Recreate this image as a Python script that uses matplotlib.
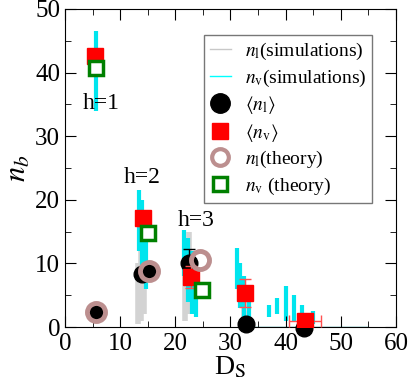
import matplotlib
matplotlib.use("Agg")
import matplotlib.pyplot as plt
from matplotlib.ticker import MultipleLocator
from matplotlib.lines import Line2D

plt.rcParams['font.family'] = ['Liberation Serif', 'DejaVu Serif']
plt.rcParams['mathtext.fontset'] = 'stix'

n1_sim_x = [13.3, 13.8, 14.3, 21.8, 22.4, 23.0, 32.5, 33.0]
n1_sim_lo = [0.5, 1.0, 2.0, 1.0, 2.0, 3.0, 0.0, 0.0]
n1_sim_hi = [10.0, 16.0, 12.0, 12.0, 15.0, 11.0, 4.0, 2.5]

nv_sim_x = [5.6, 13.5, 14.0, 14.6, 21.5, 22.3, 23.0, 23.8,
            31.2, 31.8, 32.5, 33.3, 37.0, 38.5, 40.0, 41.5, 43.0, 45.0]
nv_sim_lo = [34.0, 12.0, 8.0, 6.0, 8.0, 4.0, 2.0, 1.6,
             6.0, 3.0, 1.5, 1.0, 1.5, 2.0, 1.0, 1.0, 0.5, 0.5]
nv_sim_hi = [46.5, 21.5, 20.0, 17.0, 15.2, 14.0, 12.0, 8.0,
             12.4, 10.0, 8.0, 5.0, 3.5, 4.5, 6.5, 5.0, 3.5, 2.5]
tail_x = [33.0, 55.0]
tail_y = [0.0, 0.0]

# mean values
n1_mean_x = [5.6, 14.0, 15.2, 22.5, 32.8, 43.3]
n1_mean_y = [2.4, 8.3, 8.8, 10.0, 0.4, -0.2]
n1_mean_err = [0.0, 0.0, 0.0, 2.2, 0.0, 0.0]

nv_mean_x = [5.5, 14.2, 22.9, 32.6, 43.5]
nv_mean_y = [42.6, 17.1, 7.9, 5.4, 1.0]
nv_mean_yerr = [0.0, 1.2, 1.7, 2.2, 0.0]
nv_mean_xerr = [0.0, 0.0, 0.0, 0.0, 2.9]

# theory
n1_th_x = [5.6, 15.2, 24.5]
n1_th_y = [2.4, 8.8, 10.6]
nv_th_x = [5.6, 15.1, 24.8]
nv_th_y = [40.7, 14.7, 5.8]

h_labels = ['h=1', 'h=2', 'h=3']
h_label_x = [6.6, 14.0, 23.8]
h_label_y = [34.2, 22.6, 15.8]

fig = plt.figure(figsize=(4.09, 3.87), dpi=100)
ax = fig.add_axes([0.159, 0.155, 0.809, 0.822])

ax.vlines(n1_sim_x, n1_sim_lo, n1_sim_hi, color='#d3d3d3', lw=4, zorder=1)
ax.vlines(nv_sim_x, nv_sim_lo, nv_sim_hi, color='#00e5ee', lw=3, zorder=1)
ax.plot(tail_x, tail_y, color='#008b8b', lw=1, zorder=1)

ax.errorbar(n1_mean_x, n1_mean_y, yerr=n1_mean_err, fmt='o', color='black',
            ms=12, ecolor='black', elinewidth=1, capsize=4, zorder=3,
            clip_on=False)
ax.errorbar(nv_mean_x, nv_mean_y, yerr=nv_mean_yerr, xerr=nv_mean_xerr,
            fmt='s', color='red', ms=12, ecolor='#ff5050', elinewidth=1,
            capsize=4, zorder=4)
ax.plot(n1_th_x, n1_th_y, 'o', ms=13, mfc='none', mec='#bc8f8f', mew=3.5,
        zorder=5)
ax.plot(nv_th_x, nv_th_y, 's', ms=10.5, mfc='white', mec='green', mew=2.5,
        zorder=5)

for t, x, y in zip(h_labels, h_label_x, h_label_y):
    ax.text(x, y, t, fontsize=17, ha='center', va='baseline', zorder=6)

ax.set_xlim(0, 60)
ax.set_ylim(0, 50)
ax.xaxis.set_major_locator(MultipleLocator(10))
ax.xaxis.set_minor_locator(MultipleLocator(5))
ax.yaxis.set_major_locator(MultipleLocator(10))
ax.yaxis.set_minor_locator(MultipleLocator(5))
ax.tick_params(which='both', direction='in', top=True, right=True, labelsize=18)
ax.tick_params(which='major', length=8)
ax.tick_params(which='minor', length=4)
ax.tick_params(axis='x', pad=4)

ax.set_xlabel(r'D$_\mathrm{S}$', fontsize=20, labelpad=0)
ax.set_ylabel(r'$n_b$', fontsize=22, labelpad=2)

handles = [
    Line2D([], [], color='#c8c8c8', lw=1),
    Line2D([], [], color='cyan', lw=1),
    Line2D([], [], ls='none', marker='o', ms=14, color='black'),
    Line2D([], [], ls='none', marker='s', ms=12, color='red'),
    Line2D([], [], ls='none', marker='o', ms=12, mfc='none', mec='#bc8f8f', mew=3),
    Line2D([], [], ls='none', marker='s', ms=10, mfc='white', mec='green', mew=2.5),
]
labels = [r'$n_\mathrm{l}$(simulations)', r'$n_\mathrm{v}$(simulations)',
          r'$\langle n_\mathrm{l}\rangle$', r'$\langle n_\mathrm{v}\rangle$',
          r'$n_\mathrm{l}$(theory)', r'$n_\mathrm{v}$ (theory)']
leg = ax.legend(handles, labels, loc='upper right', bbox_to_anchor=(0.928, 0.917),
                fontsize=14, frameon=True, fancybox=False, edgecolor='#555555',
                handlelength=1.1, handletextpad=0.7, borderpad=0.3,
                labelspacing=0.28, numpoints=1, borderaxespad=0)
leg.get_frame().set_linewidth(1)

fig.savefig('out.png', dpi=100)
